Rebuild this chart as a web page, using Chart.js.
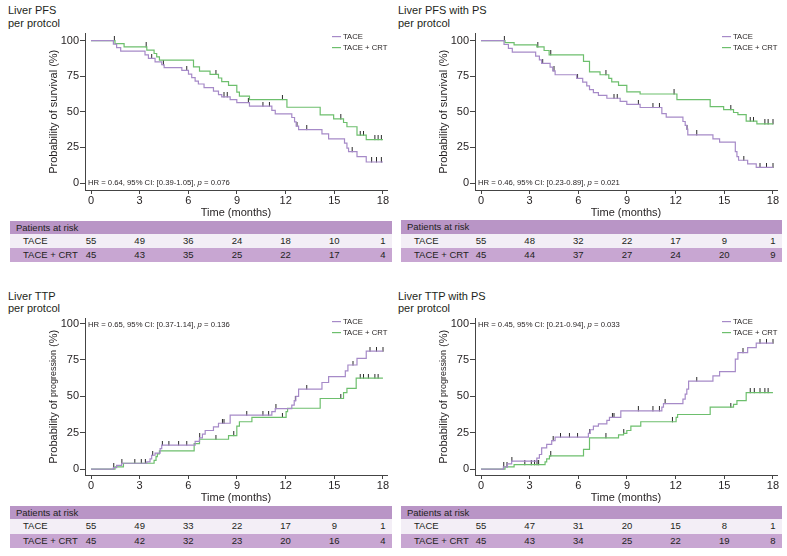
<!DOCTYPE html>
<html><head><meta charset="utf-8">
<script src="https://cdn.jsdelivr.net/npm/chart.js@4.4.1/dist/chart.umd.min.js"></script>
<style>
html,body{margin:0;padding:0;background:#fff}
#page{position:relative;width:787px;height:556px;overflow:hidden;font-family:Arial,"Liberation Sans",sans-serif;color:#231f20}
canvas{position:absolute}
.ttl{position:absolute;font-size:11px;line-height:12.5px;white-space:nowrap}
.risk{position:absolute;font-size:9.5px}
.risk .r{position:relative;height:14.2px;line-height:14.2px;white-space:nowrap}
.risk .h{background:#b995c6;height:13.4px;line-height:13.4px;padding-left:6px}
.risk .r1{background:#f3eef6}
.risk .r2{background:#c8a6d2}
.risk .lab{position:absolute;left:13px}
.risk .num{position:absolute;transform:translateX(-50%)}
</style></head>
<body><div id="page"></div>
<script>
// ---------- shared ----------
const timeTicks = [0, 3, 6, 9, 12, 15, 18];
const pctTicks = [0, 25, 50, 75, 100];
const groups = ['TACE', 'TACE + CRT'];

// ---------- Liver PFS per protocol ----------
const pfsTaceT = [0, 1.38, 1.58, 1.83, 3.33, 3.54, 3.95, 4.36, 4.51, 5.60, 6.01, 6.21, 6.42, 6.62, 6.97, 7.55, 7.86, 8.06, 8.58, 8.99, 9.77, 11.15, 11.36, 12.38, 12.55, 12.65, 12.80, 14.24, 14.65, 15.63, 15.78, 15.88, 16.40, 16.97, 18];
const pfsTaceS = [100, 97.5, 95, 92.5, 90, 87.5, 85, 83, 81, 79, 76.5, 74, 71.5, 69.5, 67, 64.5, 62, 60.5, 58.5, 56.5, 54, 51, 48.5, 46, 43, 40, 37.5, 34.5, 31, 28, 24.5, 22, 18.5, 14.8, 14.8];
const pfsTaceCens = [3.74, 4.46, 5.9, 8.2, 8.4, 9.7, 10.6, 11.0, 12.7, 13.3, 16.1, 17.3, 17.6, 17.9];
const pfsCrtT = [0, 1.48, 2.04, 3.44, 3.89, 4.05, 4.22, 6.32, 6.69, 7.34, 7.86, 8.06, 8.48, 8.99, 9.15, 9.77, 12.08, 14.13, 14.96, 15.57, 15.78, 16.40, 16.97, 18];
const pfsCrtS = [100, 97.8, 95.5, 93.2, 90.9, 88.6, 86.3, 81.5, 78.6, 76.2, 73.7, 71.2, 68.5, 63.8, 61, 58.6, 53.2, 47.8, 45, 42.5, 39.5, 33.7, 30.5, 30.5];
const pfsCrtCens = [1.44, 3.4, 7.7, 11.8, 15.4, 16.6, 16.8, 17.5, 17.7, 17.9];
const pfsRiskTace = [55, 49, 36, 24, 18, 10, 1];
const pfsRiskCrt = [45, 43, 35, 25, 22, 17, 4];

// ---------- Liver PFS with PS per protocol ----------
const psTaceT = [0, 1.42, 1.69, 1.93, 3.37, 3.60, 3.74, 4.26, 4.42, 4.57, 5.90, 6.27, 6.52, 6.69, 6.93, 7.24, 7.76, 8.58, 8.99, 9.81, 11.15, 11.42, 12.45, 12.59, 12.69, 12.75, 14.30, 14.71, 15.68, 15.78, 15.88, 16.44, 16.97, 18];
const psTaceS = [100, 97.2, 94.5, 91.8, 89, 86.4, 84, 81.4, 78.7, 76, 73.4, 70.8, 68.2, 65.6, 63.5, 61.5, 59.5, 57.3, 55.2, 53, 48.7, 46.2, 43.2, 40.5, 37.8, 33.8, 31, 28.7, 22, 18.5, 16, 13.5, 11, 11];
const psTaceCens = [3.8, 4.5, 5.95, 8.2, 8.4, 9.7, 10.6, 11.0, 12.7, 13.3, 16.2, 17.2, 17.6, 18];
const psCrtT = [0, 1.48, 2.04, 3.44, 3.89, 4.20, 6.32, 6.69, 7.34, 7.88, 8.06, 8.48, 8.99, 9.81, 12.08, 14.13, 14.96, 15.57, 15.84, 16.35, 17.01, 18];
const psCrtS = [100, 98.5, 97, 95.5, 93, 90, 85.4, 78, 76, 73.5, 71, 68.5, 64, 62.5, 58.5, 53.7, 51.5, 49.5, 48, 43.5, 41.5, 41.5];
const psCrtCens = [1.44, 3.5, 4.3, 7.7, 11.9, 15.4, 16.6, 16.8, 17.5, 17.7, 18];
const psRiskTace = [55, 48, 32, 22, 17, 9, 1];
const psRiskCrt = [45, 44, 37, 27, 24, 20, 9];

// ---------- Liver TTP per protocol ----------
const ttpTaceT = [0, 1.38, 1.58, 1.89, 3.44, 3.64, 3.74, 3.95, 4.26, 4.36, 6.42, 6.69, 6.87, 7.04, 7.55, 7.86, 8.58, 11.15, 11.36, 12.38, 12.53, 12.63, 12.80, 14.24, 14.65, 15.68, 15.84, 16.40, 16.97, 18];
const ttpTaceS = [0, 1, 2.5, 4, 5, 7, 9.5, 11, 14, 16.5, 19, 21.5, 24, 26.5, 29, 31.5, 37, 39.5, 41.5, 44, 47, 50, 55, 59.5, 63.5, 67.5, 71.5, 76, 81, 81];
const ttpTaceCens = [1.4, 1.9, 2.7, 3.1, 3.35, 3.8, 4.4, 4.8, 5.4, 5.9, 6.7, 8.1, 8.2, 9.6, 10.6, 10.95, 11.4, 12.6, 13.3, 16.15, 17.2, 17.6, 18];
const ttpCrtT = [0, 1.48, 2.0, 3.89, 4.01, 4.09, 4.22, 6.36, 6.69, 8.48, 8.99, 9.15, 9.92, 12.03, 12.12, 14.13, 15.57, 15.78, 16.35, 18];
const ttpCrtS = [0, 1.5, 4, 6, 8.5, 10.5, 12.5, 17.5, 20.5, 23, 29.5, 32.5, 35.5, 39.5, 41.8, 48.5, 52.5, 55.5, 62.5, 62.5];
const ttpCrtCens = [7.7, 8.8, 11.8, 15.4, 16.6, 16.8, 17.1, 17.5, 17.7];
const ttpRiskTace = [55, 49, 33, 22, 17, 9, 1];
const ttpRiskCrt = [45, 42, 32, 23, 20, 16, 4];

// ---------- Liver TTP with PS per protocol ----------
const tpsTaceT = [0, 1.38, 1.63, 1.89, 3.44, 3.60, 3.74, 4.05, 4.36, 4.57, 6.62, 6.73, 6.93, 7.24, 7.76, 7.92, 8.62, 11.15, 11.25, 12.45, 12.59, 12.69, 12.80, 14.30, 14.71, 15.68, 15.84, 16.44, 16.97, 18];
const tpsTaceS = [0, 1.5, 3.5, 5.5, 7.5, 10, 14.5, 17, 19.5, 22, 24.5, 27, 29.5, 31, 33.5, 35.5, 40, 42.5, 45, 48, 51.5, 55, 60.5, 64, 67, 75.5, 80, 83.5, 86.5, 86.5];
const tpsTaceCens = [1.4, 1.6, 1.9, 4.45, 4.9, 5.45, 5.95, 6.7, 8.1, 8.2, 9.7, 10.6, 11.0, 11.35, 13.3, 16.15, 17.2, 17.6, 18];
const tpsCrtT = [0, 1.48, 2.04, 3.95, 4.05, 4.22, 6.32, 6.69, 8.48, 8.79, 8.99, 9.24, 9.85, 12.03, 12.12, 14.13, 15.57, 15.78, 16.35, 18];
const tpsCrtS = [0, 1.5, 3, 5, 7, 9, 13.5, 21.5, 23.5, 24.5, 26.5, 29.5, 32.5, 35.5, 37.5, 42.5, 44.5, 47, 52.5, 52.5];
const tpsCrtCens = [2.7, 3.1, 3.3, 3.45, 3.55, 4.3, 7.7, 8.8, 11.8, 15.4, 16.6, 16.85, 17.2, 17.5, 17.7];
const tpsRiskTace = [55, 47, 31, 20, 15, 8, 1];
const tpsRiskCrt = [45, 43, 34, 25, 22, 19, 8];

// ---------- rendering ----------
const FONT = 'Arial, "Liberation Sans", sans-serif';
const TXT = '#231f20';
const AX = '#444';
const COL = ['#a68ac8', '#6dbf6d'];
Chart.defaults.font.family = FONT;
Chart.defaults.color = TXT;
const page = document.getElementById('page');

const survTitle = [['Probability of survival (%)', 11]];
const progTitle = [['Probability of ', 11], ['progression', 9], [' (%)', 11]];

const panels = [
  {left: 0, top: 26, title: ['Liver PFS', 'per protcol'], tx: 8, ty: 4, yTitle: survTitle, yMin: -4.86, yMax: 104.86,
   hr: ['HR = 0.64, 95% CI: [0.39-1.05], ', ' = 0.076'], hrTop: false,
   tace: [pfsTaceT, pfsTaceS, pfsTaceCens], crt: [pfsCrtT, pfsCrtS, pfsCrtCens], risk: [pfsRiskTace, pfsRiskCrt],
   tabX: 10, tabY: 220.7, tabW: 382},
  {left: 390, top: 26, title: ['Liver PFS with PS', 'per protcol'], tx: 398, ty: 4, yTitle: survTitle, yMin: -4.86, yMax: 104.86,
   hr: ['HR = 0.46, 95% CI: [0.23-0.89], ', ' = 0.021'], hrTop: false,
   tace: [psTaceT, psTaceS, psTaceCens], crt: [psCrtT, psCrtS, psCrtCens], risk: [psRiskTace, psRiskCrt],
   tabX: 401, tabY: 220.4, tabW: 381},
  {left: 0, top: 311, title: ['Liver TTP', 'per protcol'], tx: 8, ty: 289.5, yTitle: progTitle, yMin: -4.08, yMax: 103.4,
   hr: ['HR = 0.65, 95% CI: [0.37-1.14], ', ' = 0.136'], hrTop: true,
   tace: [ttpTaceT, ttpTaceS, ttpTaceCens], crt: [ttpCrtT, ttpCrtS, ttpCrtCens], risk: [ttpRiskTace, ttpRiskCrt],
   tabX: 10, tabY: 506, tabW: 382},
  {left: 390, top: 311, title: ['Liver TTP with PS', 'per protcol'], tx: 398, ty: 289.5, yTitle: progTitle, yMin: -4.08, yMax: 103.4,
   hr: ['HR = 0.45, 95% CI: [0.21-0.94], ', ' = 0.033'], hrTop: true,
   tace: [tpsTaceT, tpsTaceS, tpsTaceCens], crt: [tpsCrtT, tpsCrtS, tpsCrtCens], risk: [tpsRiskTace, tpsRiskCrt],
   tabX: 401, tabY: 506, tabW: 381}
];

function stepAt(T, S, t) {
  let v = S[0];
  for (let i = 0; i < T.length; i++) if (T[i] <= t) v = S[i];
  return v;
}

// censor tick glyph (extends upward from the curve)
const tick = document.createElement('canvas');
tick.width = 3; tick.height = 9;
(function () { const c = tick.getContext('2d'); c.fillStyle = '#2a2a2a'; c.fillRect(1, 0, 1, 5); })();

function decorPlugin(p) {
  return {
    id: 'decor',
    afterDraw(chart) {
      const ctx = chart.ctx, a = chart.chartArea;
      // y axis title
      ctx.save();
      ctx.translate(53, (a.top + a.bottom) / 2);
      ctx.rotate(-Math.PI / 2);
      ctx.fillStyle = TXT; ctx.textBaseline = 'middle'; ctx.textAlign = 'left';
      let tot = 0;
      const ws = p.yTitle.map(([t, s]) => { ctx.font = s + 'px ' + FONT; const w = ctx.measureText(t).width; tot += w; return w; });
      let x = -tot / 2;
      p.yTitle.forEach(([t, s], i) => { ctx.font = s + 'px ' + FONT; ctx.fillText(t, x, 0.5); x += ws[i]; });
      ctx.restore();
      // legend
      ctx.save();
      ctx.font = '7.7px ' + FONT; ctx.textBaseline = 'middle'; ctx.textAlign = 'left';
      groups.forEach((g, i) => {
        const y = a.top + 3 + i * 11;
        ctx.strokeStyle = COL[i]; ctx.lineWidth = 1.2;
        ctx.beginPath(); ctx.moveTo(a.right - 55, y); ctx.lineTo(a.right - 46, y); ctx.stroke();
        ctx.fillStyle = TXT; ctx.fillText(g, a.right - 44, y);
      });
      // HR annotation
      const hy = p.hrTop ? a.top + 6 : a.bottom - 7.5;
      let hx = a.left + 3;
      ctx.font = '7.7px ' + FONT; ctx.fillText(p.hr[0], hx, hy); hx += ctx.measureText(p.hr[0]).width;
      ctx.font = 'italic 7.7px ' + FONT; ctx.fillText('p', hx, hy); hx += ctx.measureText('p').width;
      ctx.font = '7.7px ' + FONT; ctx.fillText(p.hr[1], hx, hy);
      ctx.restore();
    }
  };
}

function makePanel(p) {
  const t = document.createElement('div');
  t.className = 'ttl'; t.style.left = p.tx + 'px'; t.style.top = p.ty + 'px';
  t.innerHTML = p.title.join('<br>');
  page.appendChild(t);

  const cv = document.createElement('canvas');
  cv.width = 395; cv.height = 194;
  cv.style.left = p.left + 'px'; cv.style.top = p.top + 'px';
  cv.style.width = '395px'; cv.style.height = '194px';
  page.appendChild(cv);

  const curve = (T, S) => T.map((x, i) => ({x, y: S[i]}));
  const cens = (T, S, C) => C.map(x => ({x, y: stepAt(T, S, x)}));
  const lineDs = (arr, i) => ({type: 'line', label: groups[i], data: curve(arr[0], arr[1]), borderColor: COL[i],
    borderWidth: 1.2, stepped: true, pointRadius: 0, pointHoverRadius: 0, fill: false, tension: 0});
  const censDs = (arr) => ({type: 'scatter', data: cens(arr[0], arr[1], arr[2]), pointStyle: tick,
    pointRadius: 3, pointHoverRadius: 3, showLine: false});

  const axisCommon = {
    grid: {display: true, drawOnChartArea: false, drawTicks: true, color: AX, lineWidth: 1},
    border: {display: true, color: AX, width: 1}
  };

  const chart = new Chart(cv, {
    data: {datasets: [lineDs(p.tace, 0), lineDs(p.crt, 1), censDs(p.tace), censDs(p.crt)]},
    options: {
      responsive: false, animation: false, events: [],
      layout: {padding: {top: 6, right: 8, left: 0, bottom: 0}},
      plugins: {legend: {display: false}, tooltip: {enabled: false}},
      scales: {
        x: {type: 'linear', min: -0.37, max: 18.25,
          afterBuildTicks: s => { s.ticks = timeTicks.map(v => ({value: v})); },
          afterFit: s => { s.height = 30; },
          grid: {...axisCommon.grid, tickLength: 4}, border: axisCommon.border,
          ticks: {font: {size: 11}, color: TXT, padding: 0, maxRotation: 0, autoSkip: false},
          title: {display: true, text: 'Time (months)', font: {size: 11}, color: TXT, padding: {top: 0, bottom: 0}}
        },
        y: {type: 'linear', min: p.yMin, max: p.yMax,
          afterBuildTicks: s => { s.ticks = pctTicks.map(v => ({value: v})); },
          afterFit: s => { s.width = 85; },
          grid: {...axisCommon.grid, tickLength: 5}, border: axisCommon.border,
          ticks: {font: {size: 11}, color: TXT, padding: 1, autoSkip: false}
        }
      }
    },
    plugins: [decorPlugin(p)]
  });

  // risk table
  const tab = document.createElement('div');
  tab.className = 'risk';
  tab.style.left = p.tabX + 'px'; tab.style.top = p.tabY + 'px'; tab.style.width = p.tabW + 'px';
  const h = document.createElement('div'); h.className = 'h'; h.textContent = 'Patients at risk';
  tab.appendChild(h);
  groups.forEach((g, gi) => {
    const r = document.createElement('div'); r.className = 'r r' + (gi + 1);
    const lab = document.createElement('span'); lab.className = 'lab'; lab.textContent = g; r.appendChild(lab);
    p.risk[gi].forEach((n, k) => {
      const s = document.createElement('span'); s.className = 'num'; s.textContent = n;
      s.style.left = (p.left + chart.scales.x.getPixelForValue(timeTicks[k]) - p.tabX) + 'px';
      r.appendChild(s);
    });
    tab.appendChild(r);
  });
  page.appendChild(tab);
}

panels.forEach(makePanel);
</script></body></html>
